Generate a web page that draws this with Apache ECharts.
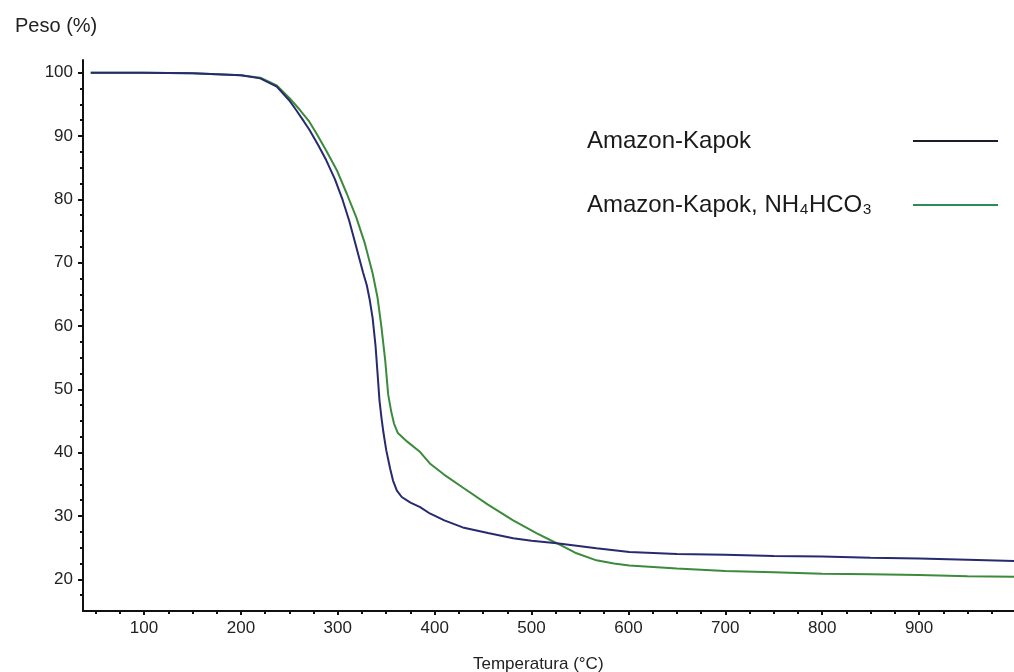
<!DOCTYPE html>
<html>
<head>
<meta charset="utf-8">
<script src="https://cdn.jsdelivr.net/npm/echarts@6/dist/echarts.min.js"></script>
<style>
  html, body { margin: 0; padding: 0; background: #fff; }
  #chart { width: 1014px; height: 672px; }
</style>
</head>
<body>
<div id="chart"></div>
<script>
// TGA curves
var kapokTemp = [45, 100, 150, 200, 220, 237, 250, 257, 265, 271, 280, 288, 297, 305, 312, 319, 326, 330, 333, 336, 339, 341, 343, 345, 347, 350, 354, 357, 361, 366, 375, 385, 395, 410, 429, 455, 481, 500, 526, 567, 601, 650, 700, 750, 800, 850, 900, 950, 998]
var kapokWeight = [100, 100, 99.9, 99.6, 99.1, 97.8, 95.6, 94.1, 92.3, 90.9, 88.5, 86.2, 83.2, 79.9, 76.5, 72.5, 68.5, 66.4, 64.1, 61.2, 56.8, 52.6, 48.3, 45.6, 43.3, 40.4, 37.5, 35.6, 34.0, 33.0, 32.1, 31.4, 30.4, 29.3, 28.2, 27.3, 26.5, 26.1, 25.7, 24.9, 24.3, 24.0, 23.9, 23.7, 23.6, 23.4, 23.3, 23.1, 22.9]

var nhTemp = [45, 100, 150, 200, 220, 237, 250, 261, 270, 278, 288, 299, 309, 319, 328, 336, 341, 345, 349, 352, 355, 358, 362, 372, 385, 395, 410, 429, 455, 481, 505, 526, 545, 567, 585, 601, 650, 700, 750, 800, 850, 900, 950, 998]
var nhWeight = [100, 100, 99.9, 99.6, 99.2, 98.0, 96.0, 94.1, 92.4, 90.4, 87.7, 84.6, 81.0, 77.2, 73.0, 68.3, 64.5, 59.9, 54.5, 49.2, 46.6, 44.6, 43.1, 41.7, 40.1, 38.3, 36.5, 34.5, 31.8, 29.3, 27.3, 25.7, 24.2, 23.0, 22.5, 22.2, 21.7, 21.3, 21.1, 20.9, 20.8, 20.7, 20.5, 20.4]

var xTicks = [100, 200, 300, 400, 500, 600, 700, 800, 900]
var xMinorTicks = [50, 75, 125, 150, 175, 225, 250, 275, 325, 350, 375, 425, 450, 475, 525, 550, 575, 625, 650, 675, 725, 750, 775, 825, 850, 875, 925, 950, 975]
var yTicks = [20, 30, 40, 50, 60, 70, 80, 90, 100]
var yMinorTicks = [17.5, 22.5, 25, 27.5, 32.5, 35, 37.5, 42.5, 45, 47.5, 52.5, 55, 57.5, 62.5, 65, 67.5, 72.5, 75, 77.5, 82.5, 85, 87.5, 92.5, 95, 97.5]

var seriesNames = ['Amazon-Kapok', 'Amazon-Kapok, NH₄HCO₃']

function pairs(xs, ys) {
  var out = []
  for (var i = 0; i < xs.length; i++) {
    out.push([xs[i], ys[i]])
  }
  return out
}

var font = '"Liberation Sans", Arial, "DejaVu Sans", sans-serif'
var axisColor = '#111'

var chart = echarts.init(document.getElementById('chart'))
var option = {
  backgroundColor: '#fff',
  animation: false,
  textStyle: { fontFamily: font },
  title: [
    {
      text: 'Peso (%)',
      left: 10,
      top: 11,
      textStyle: { fontSize: 20, fontWeight: 'normal', color: '#222', fontFamily: font }
    },
    {
      text: 'Temperatura (°C)',
      left: 468,
      top: 651,
      textStyle: { fontSize: 17, fontWeight: 'normal', color: '#222', fontFamily: font }
    }
  ],
  legend: {
    orient: 'vertical',
    right: 11,
    top: 124,
    align: 'right',
    itemWidth: 85,
    itemHeight: 2,
    itemGap: 40,
    icon: 'rect',
    formatter: function (name) {
      return '{t|' + name + '}'
    },
    textStyle: {
      fontSize: 24,
      color: '#1a1a1a',
      fontFamily: font,
      rich: {
        t: { width: 321, align: 'left', fontSize: 24, fontFamily: font, color: '#1a1a1a' }
      }
    },
    data: [
      { name: seriesNames[0], itemStyle: { color: '#1c1c2c' } },
      { name: seriesNames[1], itemStyle: { color: '#2e8b57' } }
    ]
  },
  grid: { left: 83, right: 0, top: 60, bottom: 61 },
  xAxis: [
    {
      type: 'value',
      min: 37,
      max: 998,
      axisLine: { show: true, lineStyle: { color: axisColor, width: 2 } },
      axisTick: { show: true, length: 4, customValues: xTicks, lineStyle: { color: axisColor, width: 2 } },
      axisLabel: { customValues: xTicks, margin: 9, fontSize: 17, color: '#222', fontFamily: font },
      splitLine: { show: false }
    },
    {
      type: 'value',
      min: 37,
      max: 998,
      position: 'bottom',
      axisLine: { show: false },
      axisTick: { show: true, length: 3, customValues: xMinorTicks, lineStyle: { color: axisColor, width: 2 } },
      axisLabel: { show: false },
      splitLine: { show: false }
    }
  ],
  yAxis: [
    {
      type: 'value',
      min: 15,
      max: 102,
      axisLine: { show: true, lineStyle: { color: axisColor, width: 2 } },
      axisTick: { show: true, length: 5, customValues: yTicks, lineStyle: { color: axisColor, width: 2 } },
      axisLabel: { customValues: yTicks, margin: 10, fontSize: 17, color: '#222', fontFamily: font },
      splitLine: { show: false }
    },
    {
      type: 'value',
      min: 15,
      max: 102,
      position: 'left',
      axisLine: { show: false },
      axisTick: { show: true, length: 3, customValues: yMinorTicks, lineStyle: { color: axisColor, width: 2 } },
      axisLabel: { show: false },
      splitLine: { show: false }
    }
  ],
  series: [
    {
      name: seriesNames[1],
      type: 'line',
      symbol: 'none',
      smooth: false,
      lineStyle: { color: '#3c8a3c', width: 2 },
      itemStyle: { color: '#3c8a3c' },
      data: pairs(nhTemp, nhWeight)
    },
    {
      name: seriesNames[0],
      type: 'line',
      symbol: 'none',
      smooth: false,
      lineStyle: { color: '#262a6e', width: 2 },
      itemStyle: { color: '#262a6e' },
      data: pairs(kapokTemp, kapokWeight)
    }
  ]
}
chart.setOption(option)
</script>
</body>
</html>
